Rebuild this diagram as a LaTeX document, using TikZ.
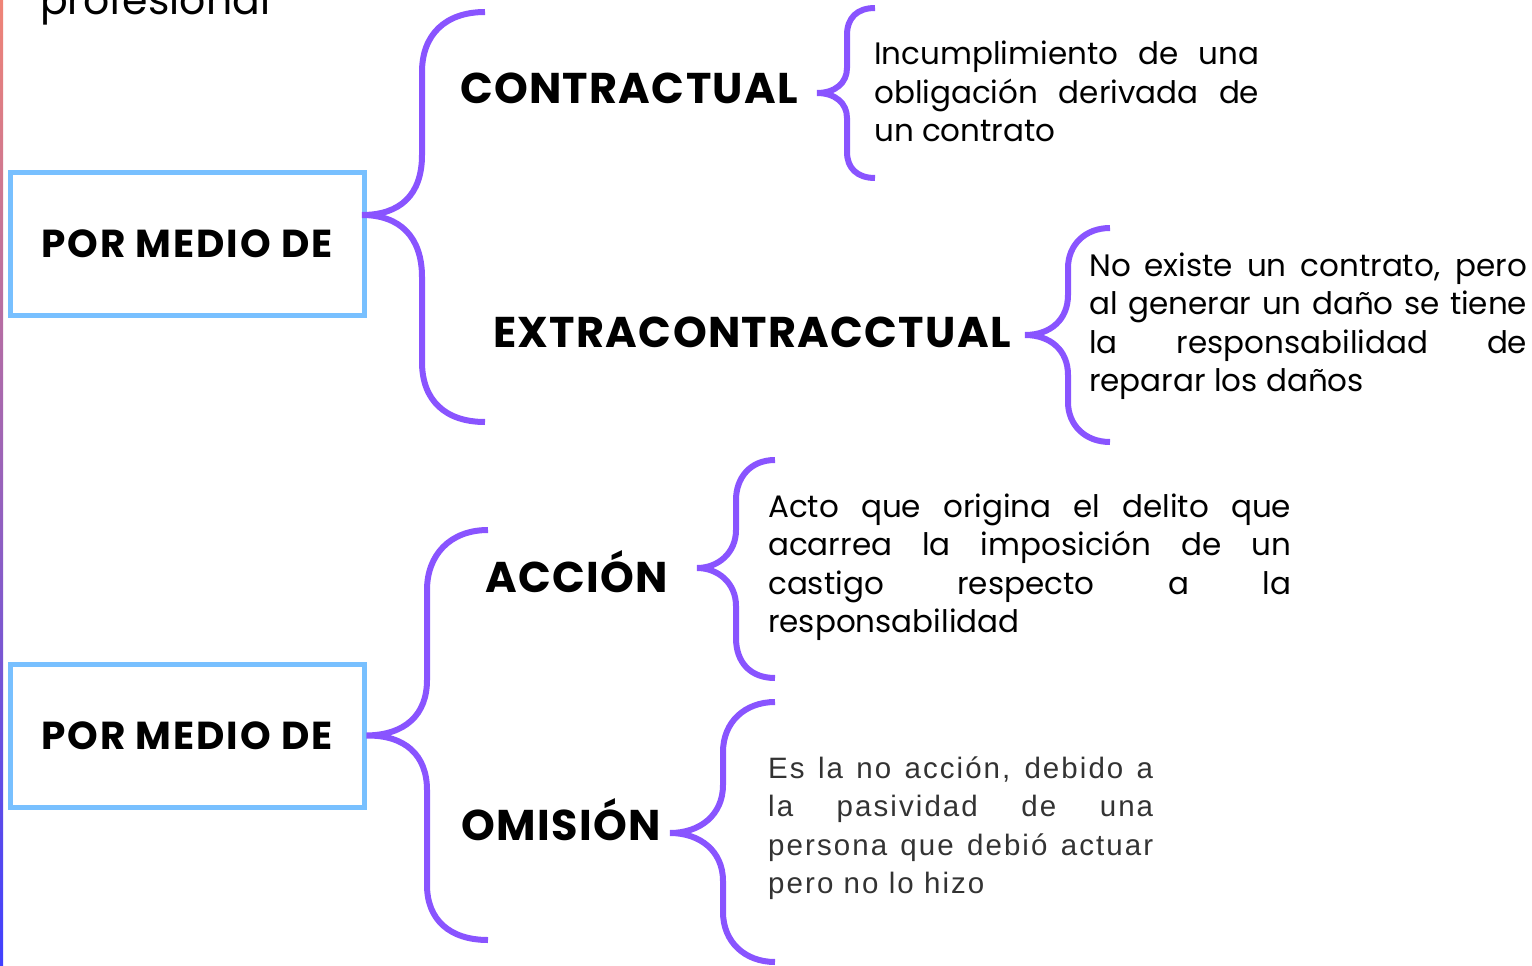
\documentclass[tikz,border=0pt]{standalone}
\usepackage{fontspec}
\setmainfont{Poppins}
\newfontfamily\grisfont{Liberation Sans}[LetterSpace=7]
\definecolor{morado}{RGB}{137,84,255}
\definecolor{celeste}{RGB}{120,192,255}
\definecolor{gris}{RGB}{51,51,51}
\definecolor{salmon}{RGB}{240,132,118}
\definecolor{lila}{RGB}{176,112,220}
\definecolor{azul}{RGB}{64,64,255}
\tikzstyle{caja} = [rectangle, draw=celeste, line width=5pt, minimum width=354pt, minimum height=143pt, font=\fontsize{39}{46}\selectfont\bfseries\addfontfeature{LetterSpace=5}]
\tikzstyle{titulo} = [anchor=base, inner sep=0pt, font=\fontsize{43}{50}\selectfont\bfseries\addfontfeature{LetterSpace=3}]
\tikzstyle{texto} = [anchor=base west, inner sep=0pt, align=justify, font=\fontsize{31}{38.5}\selectfont]
\tikzstyle{llave} = [draw=morado, line width=6pt]
\begin{document}
\begin{tikzpicture}[x=1pt,y=-1pt]
		\useasboundingbox (0,0) rectangle (1532,966);
		\clip (0,0) rectangle (1532,966);
		\shade[top color=salmon, middle color=lila, bottom color=azul] (0,0) rectangle (3,966);
		
		\node (encabezado) [anchor=base west, inner sep=0pt, font=\fontsize{41}{50}\selectfont] at (40,15) {profesional};
		
		\node (caja1) [caja] at (187,243.5) {POR MEDIO DE};
		\node (caja2) [caja] at (187,735.5) {POR MEDIO DE};
		
		\node (contractual) [titulo] at (629,103) {CONTRACTUAL};
		\node (extra) [titulo] at (752,347) {EXTRACONTRACCTUAL};
		\node (accion) [titulo] at (577,592) {ACCIÓN};
		\node (omision) [titulo] at (561,840) {OMISIÓN};
		
		\node (def1) [texto, text width=385pt] at (874,65) {\makebox[385pt][s]{Incumplimiento de una}\\ \makebox[385pt][s]{obligación derivada de}\\ un contrato};
		\node (def2) [texto, text width=438pt] at (1089,276) {\makebox[438pt][s]{No existe un contrato, pero}\\ \makebox[438pt][s]{al generar un daño se tiene}\\ \makebox[438pt][s]{la responsabilidad de}\\ reparar los daños};
		\node (def3) [texto, text width=523pt] at (768,517) {\makebox[523pt][s]{Acto que origina el delito que}\\ \makebox[523pt][s]{acarrea la imposición de un}\\ \makebox[523pt][s]{castigo respecto a la}\\ responsabilidad};
		\node (def4) [texto, text width=385pt, text=gris, font=\grisfont\fontsize{29.5}{38.5}\selectfont] at (768,778) {\makebox[385pt][s]{Es la no acción, debido a}\\ \makebox[385pt][s]{la pasividad de una}\\ \makebox[385pt][s]{persona que debió actuar}\\ pero no lo hizo};
		
		% puntas y extremos de las llaves
		\coordinate (p1) at (362,215);
		\coordinate (a1) at (485,12);
		\coordinate (b1) at (485,422);
		\coordinate (a2) at (488,530);
		\coordinate (b2) at (488,940);
		\coordinate (p3) at (817,93);
		\coordinate (a3) at (875,8);
		\coordinate (b3) at (875,178);
		\coordinate (p4) at (1025,335);
		\coordinate (a4) at (1110,228);
		\coordinate (b4) at (1110,442);
		\coordinate (p5) at (697,568);
		\coordinate (a5) at (775,460);
		\coordinate (b5) at (775,678);
		\coordinate (p6) at (670,833);
		\coordinate (a6) at (775,702);
		\coordinate (b6) at (775,962);
		
		\draw [llave] (a1) .. controls (445,12) and (422,35) .. (422,72) -- (422,155) .. controls (422,195) and (400,215) .. (p1) .. controls (400,215) and (422,237) .. (422,277) -- (422,362) .. controls (422,400) and (445,422) .. (b1);
		\draw [llave] (a2) .. controls (450,530) and (427,555) .. (427,590) -- (427,680) .. controls (427,715) and (405,735) .. (caja2.east) .. controls (405,735) and (427,755) .. (427,790) -- (427,885) .. controls (427,920) and (450,940) .. (b2);
		\draw [llave] (a3) .. controls (857,8) and (847,18) .. (847,35) -- (847,68) .. controls (847,83) and (835,93) .. (p3) .. controls (835,93) and (847,103) .. (847,118) -- (847,152) .. controls (847,168) and (857,178) .. (b3);
		\draw [llave] (a4) .. controls (1085,228) and (1068,245) .. (1068,268) -- (1068,295) .. controls (1068,320) and (1050,335) .. (p4) .. controls (1050,335) and (1068,350) .. (1068,375) -- (1068,402) .. controls (1068,425) and (1085,442) .. (b4);
		\draw [llave] (a5) .. controls (750,460) and (736,478) .. (736,500) -- (736,530) .. controls (736,553) and (718,568) .. (p5) .. controls (718,568) and (736,583) .. (736,606) -- (736,638) .. controls (736,662) and (750,678) .. (b5);
		\draw [llave] (a6) .. controls (745,702) and (723,722) .. (723,752) -- (723,785) .. controls (723,815) and (700,833) .. (p6) .. controls (700,833) and (723,851) .. (723,881) -- (723,912) .. controls (723,942) and (745,962) .. (b6);
		
	\end{tikzpicture}
\end{document}
